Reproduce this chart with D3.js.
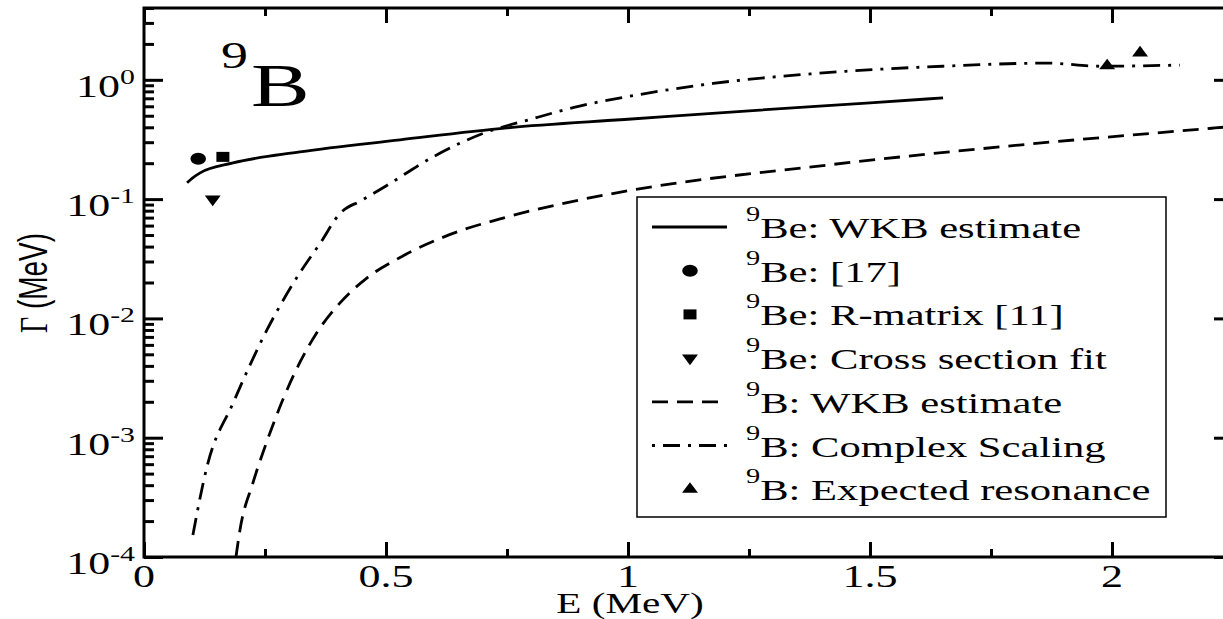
<!DOCTYPE html>
<meta charset="utf-8" />
<script src="https://d3js.org/d3.v7.min.js"></script>
<style>
	body { margin: 0; background: #fff; }
	text { font-family: "Liberation Serif", "Times New Roman", serif; fill: #000; }
</style>
<div id="chart"></div>
<script>
	// --- data ---
	// 9Be: WKB estimate (solid)
	const beWkbE = [0.089, 0.10, 0.116, 0.184, 0.322, 0.529, 0.75, 1.0, 1.25, 1.5, 1.651];
	const beWkbG = [0.137, 0.150, 0.166, 0.201, 0.249, 0.314, 0.396, 0.467, 0.55, 0.641, 0.706];
	// 9B: WKB estimate (dashed)
	const bWkbE = [0.190, 0.198, 0.225, 0.254, 0.287, 0.322, 0.357, 0.405, 0.461, 0.529, 0.63, 0.75, 0.901, 1.0, 1.417, 1.8, 2.213, 2.25];
	const bWkbG = [1.0e-4, 1.66e-4, 4.17e-4, 9.33e-4, 2.09e-3, 4.27e-3, 7.59e-3, 0.0135, 0.0219, 0.0324, 0.0501, 0.0708, 0.0986, 0.1175, 0.194, 0.282, 0.395, 0.407];
	// 9B: Complex Scaling (dash-dot)
	const bCsE = [0.101, 0.130, 0.184, 0.254, 0.322, 0.364, 0.405, 0.45, 0.5, 0.6, 0.7, 0.8, 0.9, 1.0, 1.176, 1.417, 1.65, 1.866, 1.975, 2.14];
	const bCsG = [1.53e-4, 5.69e-4, 1.95e-3, 8.0e-3, 0.0241, 0.0427, 0.0759, 0.0977, 0.129, 0.229, 0.355, 0.468, 0.603, 0.724, 0.933, 1.153, 1.30, 1.38, 1.30, 1.33];
	// single points
	const beRefE = [0.112], beRefG = [0.218];           // 9Be: [17]
	const beRmatE = [0.163], beRmatG = [0.226];         // 9Be: R-matrix [11]
	const beFitE = [0.142], beFitG = [0.1];             // 9Be: Cross section fit
	const bResE = [1.99, 2.058], bResG = [1.31, 1.68];  // 9B: Expected resonance

	const xMajor = [0, 0.5, 1, 1.5, 2];
	const xMajorLabels = ["0", "0.5", "1", "1.5", "2"];
	const xMinor = [0.25, 0.75, 1.25, 1.75, 2.25];
	const yExponents = [-4, -3, -2, -1, 0];

	const legendLabels = [
		"Be: WKB estimate",
		"Be: [17]",
		"Be: R-matrix [11]",
		"Be: Cross section fit",
		"B: WKB estimate",
		"B: Complex Scaling",
		"B: Expected resonance"
	];

	// --- layout ---
	const W = 1223, H = 619;
	const SX = 1.42; // the figure is stretched horizontally
	const pLeft = 144, pRight = 1233, pTop = 8, pBottom = 557;

	const svg = d3.select("#chart").append("svg")
		.attr("width", W).attr("height", H);

	const x = d3.scaleLinear().domain([0, 2.25]).range([pLeft, pRight]);
	const y = d3.scaleLog().domain([1e-4, 4]).range([pBottom, pTop]);

	svg.append("clipPath").attr("id", "plot")
		.append("rect").attr("x", pLeft).attr("y", pTop)
		.attr("width", pRight - pLeft).attr("height", pBottom - pTop);

	// minor log ticks
	const yMinor = [];
	yExponents.forEach(e => { for (let k = 2; k <= 9; k++) { const v = k * Math.pow(10, e); if (v <= 4) yMinor.push(v); } });
	const yMajorVals = yExponents.map(e => Math.pow(10, e));

	function axisStyle(g) {
		g.select(".domain").remove();
		g.selectAll("line").attr("stroke", "#000").attr("stroke-width", 3);
		g.selectAll("text").remove();
	}

	svg.append("g").attr("transform", `translate(0,${pBottom})`)
		.call(d3.axisBottom(x).tickValues(xMajor).tickSize(-15)).call(axisStyle);
	svg.append("g").attr("transform", `translate(0,${pBottom})`)
		.call(d3.axisBottom(x).tickValues(xMinor).tickSize(-8)).call(axisStyle);
	svg.append("g").attr("transform", `translate(0,${pTop})`)
		.call(d3.axisTop(x).tickValues(xMajor).tickSize(-15)).call(axisStyle);
	svg.append("g").attr("transform", `translate(0,${pTop})`)
		.call(d3.axisTop(x).tickValues(xMinor).tickSize(-8)).call(axisStyle);
	svg.append("g").attr("transform", `translate(${pLeft},0)`)
		.call(d3.axisLeft(y).tickValues(yMajorVals).tickSize(-19)).call(axisStyle);
	svg.append("g").attr("transform", `translate(${pLeft},0)`)
		.call(d3.axisLeft(y).tickValues(yMinor).tickSize(-10)).call(axisStyle);
	svg.append("g").attr("transform", `translate(${pRight},0)`)
		.call(d3.axisRight(y).tickValues(yMajorVals).tickSize(-19)).call(axisStyle);
	svg.append("g").attr("transform", `translate(${pRight},0)`)
		.call(d3.axisRight(y).tickValues(yMinor).tickSize(-10)).call(axisStyle);

	// frame
	svg.append("rect").attr("x", pLeft).attr("y", pTop)
		.attr("width", pRight - pLeft).attr("height", pBottom - pTop)
		.attr("fill", "none").attr("stroke", "#000").attr("stroke-width", 3);

	// stretched text helper
	function stext(px, py, size, anchor) {
		return svg.append("text")
			.attr("transform", `translate(${px},${py}) scale(${SX},1)`)
			.attr("font-size", size)
			.attr("text-anchor", anchor || "start");
	}

	// y tick labels 10^n
	yExponents.forEach(e => {
		const t = stext(135, y(Math.pow(10, e)) + 17, 31, "end");
		t.append("tspan").text("10");
		t.append("tspan").attr("font-size", 21).attr("dy", -13).text(String(e));
	});

	// x tick labels
	xMajor.forEach((v, i) => {
		stext(x(v), 587, 31, "middle").text(xMajorLabels[i]);
	});

	// axis titles
	stext(630, 613, 29, "middle").text("E (MeV)");
	const yl = svg.append("text")
		.attr("transform", `translate(47,283) scale(${SX},1) rotate(-90)`)
		.attr("text-anchor", "middle").attr("font-size", 28);
	yl.append("tspan").text("\u0393");
	yl.append("tspan").style("font-family", "'Liberation Sans', Arial, sans-serif").text(" (MeV)");

	// panel label
	stext(221, 68, 38).text("9");
	stext(251, 106, 62).text("B");

	// curves
	const line = d3.line().x(d => x(d[0])).y(d => y(d[1])).curve(d3.curveMonotoneX);
	const curves = svg.append("g").attr("clip-path", "url(#plot)");
	const series = [
		{ e: beWkbE, g: beWkbG, dash: null },
		{ e: bWkbE, g: bWkbG, dash: "16,9" },
		{ e: bCsE, g: bCsG, dash: "17,8,3,8" }
	];
	series.forEach(s => {
		curves.append("path")
			.datum(d3.zip(s.e, s.g))
			.attr("d", line)
			.attr("fill", "none").attr("stroke", "#000").attr("stroke-width", 2.8)
			.attr("stroke-dasharray", s.dash);
	});

	// markers
	const shapes = {
		circle: { type: d3.symbolCircle, size: 113, rot: 0 },
		square: { type: d3.symbolSquare, size: 100, rot: 0 },
		down: { type: d3.symbolTriangle, size: 65, rot: 180 },
		up: { type: d3.symbolTriangle, size: 65, rot: 0 }
	};
	function marker(px, py, kind) {
		const s = shapes[kind];
		svg.append("path")
			.attr("d", d3.symbol().type(s.type).size(s.size)())
			.attr("transform", `translate(${px},${py}) scale(1.3,1) rotate(${s.rot})`)
			.attr("fill", "#000");
	}
	beRefE.forEach((v, i) => marker(x(v), y(beRefG[i]), "circle"));
	beRmatE.forEach((v, i) => marker(x(v), y(beRmatG[i]), "square"));
	beFitE.forEach((v, i) => marker(x(v), y(beFitG[i]), "down"));
	bResE.forEach((v, i) => marker(x(v), y(bResG[i]), "up"));

	// legend
	svg.append("rect").attr("x", 637).attr("y", 197).attr("width", 529).attr("height", 320)
		.attr("fill", "#fff").attr("stroke", "#000").attr("stroke-width", 1.5);
	const legendKinds = ["solid", "circle", "square", "down", "dash", "dashdot", "up"];
	legendLabels.forEach((lab, i) => {
		const base = 238 + i * 43.7;
		const cy = base - 11;
		const k = legendKinds[i];
		if (k === "solid" || k === "dash" || k === "dashdot") {
			svg.append("line").attr("x1", 652).attr("x2", 727).attr("y1", cy).attr("y2", cy)
				.attr("stroke", "#000").attr("stroke-width", 2.8)
				.attr("stroke-dasharray", k === "dash" ? "16,9" : k === "dashdot" ? "3,8,17,8" : null);
		} else {
			marker(690, cy, k);
		}
		const t = stext(746, base, 30);
		t.append("tspan").attr("font-size", 20).attr("dy", -17).text("9");
		t.append("tspan").attr("dy", 17).text(lab);
	});
</script>
